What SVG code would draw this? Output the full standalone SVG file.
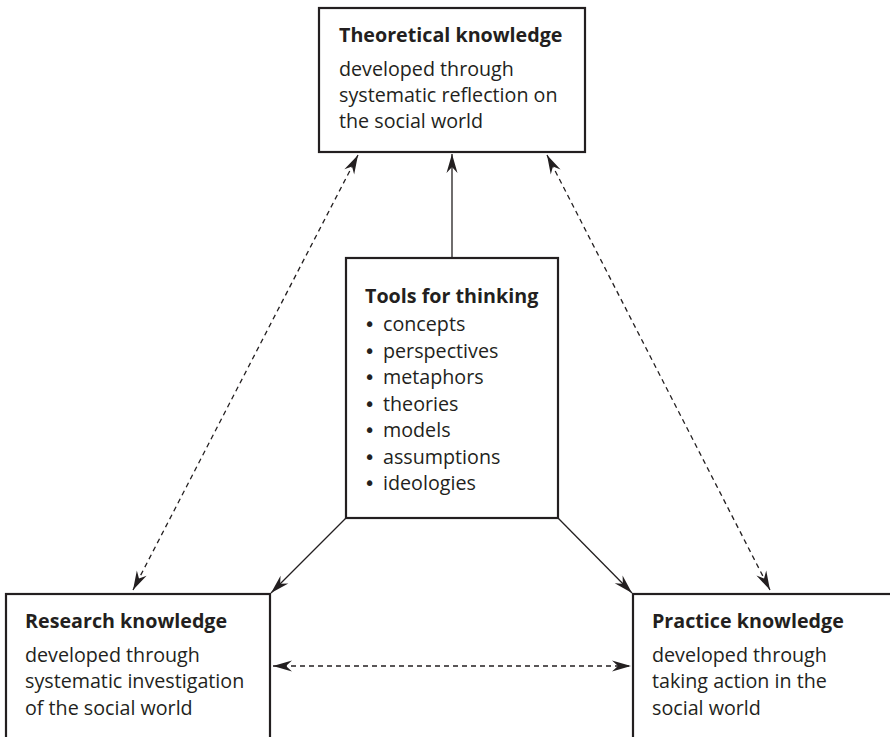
<svg xmlns="http://www.w3.org/2000/svg" width="890" height="737" viewBox="0 0 890 737">
<defs>
<style>
.box{fill:#fff;stroke:#231f20;stroke-width:2.2}
.t{font-family:"Open Sans","Noto Sans","Liberation Sans",sans-serif;font-size:19.7px;fill:#231f20}
.b{font-weight:bold}
.bl{font-family:"DejaVu Sans",sans-serif;font-size:19px}
.c{fill:none;stroke:#231f20;stroke-width:1.3}
.d{stroke-dasharray:5 4}
</style>
<marker id="ah" viewBox="-20 -6 22 12" markerWidth="22" markerHeight="12" refX="0" refY="0" orient="auto-start-reverse" markerUnits="userSpaceOnUse">
<path d="M0,0 L-19,-5.5 L-13,0 L-19,5.5 Z" fill="#231f20"/>
</marker>
</defs>
<rect width="890" height="737" fill="#fff"/>
<g id="connectors">
<line class="c" x1="452" y1="258" x2="452" y2="154" marker-end="url(#ah)"/>
<line class="c" x1="346" y1="518" x2="271" y2="593" marker-end="url(#ah)"/>
<line class="c" x1="558" y1="518" x2="632" y2="593" marker-end="url(#ah)"/>
<line class="c d" x1="358" y1="155" x2="133" y2="590" marker-start="url(#ah)" marker-end="url(#ah)"/>
<line class="c d" x1="547" y1="155" x2="770" y2="590" marker-start="url(#ah)" marker-end="url(#ah)"/>
<line class="c d" x1="273" y1="666" x2="631" y2="666" marker-start="url(#ah)" marker-end="url(#ah)"/>
</g>
<g id="theoretical">
<rect class="box" x="319" y="8" width="266" height="144"/>
<text class="t b" x="339" y="42">Theoretical knowledge</text>
<text class="t" x="339" y="76">developed through</text>
<text class="t" x="339" y="102">systematic reflection on</text>
<text class="t" x="339" y="128">the social world</text>
</g>
<g id="tools">
<rect class="box" x="346" y="258" width="212" height="260"/>
<text class="t b" x="365" y="303">Tools for thinking</text>
<text class="t" y="331"><tspan class="bl" x="364">•</tspan><tspan x="383">concepts</tspan></text>
<text class="t" y="357.5"><tspan class="bl" x="364">•</tspan><tspan x="383">perspectives</tspan></text>
<text class="t" y="384"><tspan class="bl" x="364">•</tspan><tspan x="383">metaphors</tspan></text>
<text class="t" y="410.5"><tspan class="bl" x="364">•</tspan><tspan x="383">theories</tspan></text>
<text class="t" y="437"><tspan class="bl" x="364">•</tspan><tspan x="383">models</tspan></text>
<text class="t" y="463.5"><tspan class="bl" x="364">•</tspan><tspan x="383">assumptions</tspan></text>
<text class="t" y="490"><tspan class="bl" x="364">•</tspan><tspan x="383">ideologies</tspan></text>
</g>
<g id="research">
<rect class="box" x="6" y="594" width="264" height="160"/>
<text class="t b" x="25" y="628">Research knowledge</text>
<text class="t" x="25" y="662">developed through</text>
<text class="t" x="25" y="688">systematic investigation</text>
<text class="t" x="25" y="715">of the social world</text>
</g>
<g id="practice">
<rect class="box" x="633" y="594" width="270" height="160"/>
<text class="t b" x="652" y="628">Practice knowledge</text>
<text class="t" x="652" y="662">developed through</text>
<text class="t" x="652" y="688">taking action in the</text>
<text class="t" x="652" y="715">social world</text>
</g>
</svg>
